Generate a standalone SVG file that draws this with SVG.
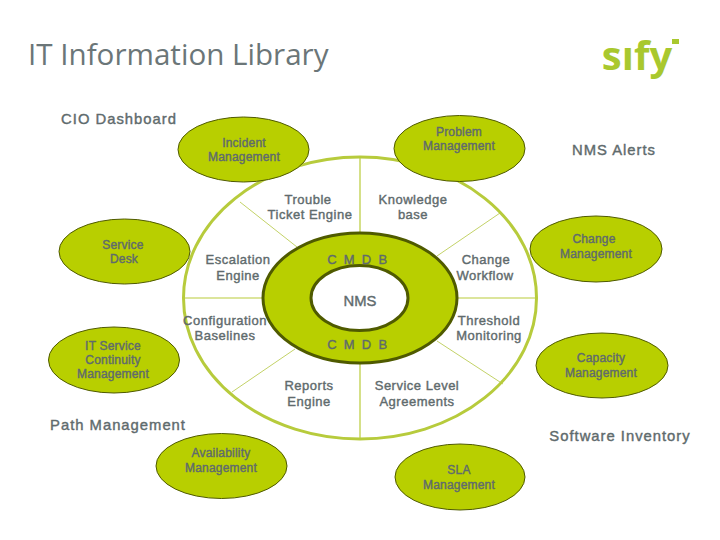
<svg xmlns="http://www.w3.org/2000/svg" width="720" height="540" viewBox="0 0 720 540">
<style>
text{font-family:"Liberation Sans",Arial,sans-serif;fill:#5f6b6d;text-anchor:middle;font-size:13px;stroke:#5f6b6d;stroke-width:.4px;letter-spacing:.5px}
.l{font-size:14.800px;letter-spacing:1px}
.s{font-size:12px;letter-spacing:.2px}
.n{fill:#b8cf00;stroke:#4f5a00;stroke-width:1}
.c{stroke:#b9cc3a;stroke-width:1.2;fill:none}
</style>
<rect width="720" height="540" fill="#fff"/>
<text x="28" y="65" style="font-family:'Open Sans',sans-serif;font-size:29.600px;text-anchor:start;stroke:none;fill:#6b7678;letter-spacing:0">IT Information Library</text>
<g id="logo"><text x="637" y="70" style="font-family:'Open Sans',sans-serif;font-size:40px;font-weight:700;fill:#a9c82e;stroke:none;letter-spacing:0">sıfy</text><rect x="672" y="39" width="7" height="5" fill="#a9c82e"/></g>
<g id="connectors">
<path class="c" d="M360 157V233M360 363V439M184 298H263M457 298H537"/>
<path d="M240 202L297 247M500 213L437 256M437 341L503 384M295 349L232 392" fill="none" stroke="#c3d267" stroke-width="1"/>
</g>
<g id="wheel">
<ellipse cx="360" cy="298" rx="176.500" ry="141" fill="none" stroke="#b7cb3c" stroke-width="3"/>
<path fill-rule="evenodd" d="M263 298a97 65 0 1 0 194 0a97 65 0 1 0-194 0zM311 298a48.500 32.500 0 1 0 97 0a48.500 32.500 0 1 0-97 0z" fill="#b8cf00" stroke="#4f5a00" stroke-width="3"/>
</g>
<g id="n-incident"><ellipse class="n" cx="243.500" cy="149.500" rx="65.500" ry="32.500"/><text class="s" x="244" y="147">Incident</text><text class="s" x="244" y="161">Management</text></g>
<g id="n-problem"><ellipse class="n" cx="459.500" cy="148.500" rx="65.500" ry="33"/><text class="s" x="459" y="136">Problem</text><text class="s" x="459" y="150">Management</text></g>
<g id="n-service"><ellipse class="n" cx="124.500" cy="251.500" rx="65.500" ry="32.500"/><text class="s" x="123" y="249">Service</text><text class="s" x="124" y="263">Desk</text></g>
<g id="n-change"><ellipse class="n" cx="596" cy="249" rx="66" ry="33"/><text class="s" x="594" y="243">Change</text><text class="s" x="596" y="258">Management</text></g>
<g id="n-capacity"><ellipse class="n" cx="602" cy="365.500" rx="66" ry="32.500"/><text class="s" x="601" y="362">Capacity</text><text class="s" x="601" y="377">Management</text></g>
<g id="n-continuity"><ellipse class="n" cx="114" cy="360" rx="65.500" ry="33"/><text class="s" x="113" y="350">IT Service</text><text class="s" x="113" y="364">Continuity</text><text class="s" x="113" y="378">Management</text></g>
<g id="n-availability"><ellipse class="n" cx="221.500" cy="466" rx="65.500" ry="32.500"/><text class="s" x="221" y="457">Availability</text><text class="s" x="221" y="472">Management</text></g>
<g id="n-sla"><ellipse class="n" cx="460" cy="477" rx="65" ry="33"/><text class="s" x="459" y="474">SLA</text><text class="s" x="459" y="489">Management</text></g>
<g id="labels">
<text class="l" x="119" y="124">CIO Dashboard</text>
<text class="l" x="614" y="155">NMS Alerts</text>
<text class="l" x="118" y="430">Path Management</text>
<text class="l" x="620" y="441">Software Inventory</text>
<text x="308" y="204">Trouble</text><text x="310" y="219">Ticket Engine</text>
<text x="413" y="204">Knowledge</text><text x="413" y="219">base</text>
<text x="238" y="264">Escalation</text><text x="238" y="280">Engine</text>
<text x="486" y="264">Change</text><text x="485" y="280">Workflow</text>
<text x="225" y="325">Configuration</text><text x="225" y="340">Baselines</text>
<text x="489" y="325">Threshold</text><text x="489" y="340">Monitoring</text>
<text x="309" y="390">Reports</text><text x="309" y="406">Engine</text>
<text x="417" y="390">Service Level</text><text x="417" y="406">Agreements</text>
<text x="358" y="264" style="letter-spacing:1.8px">C M D B</text>
<text x="358" y="349" style="letter-spacing:1.8px">C M D B</text>
<text class="l" x="360" y="306" style="letter-spacing:0">NMS</text>
</g>
</svg>
